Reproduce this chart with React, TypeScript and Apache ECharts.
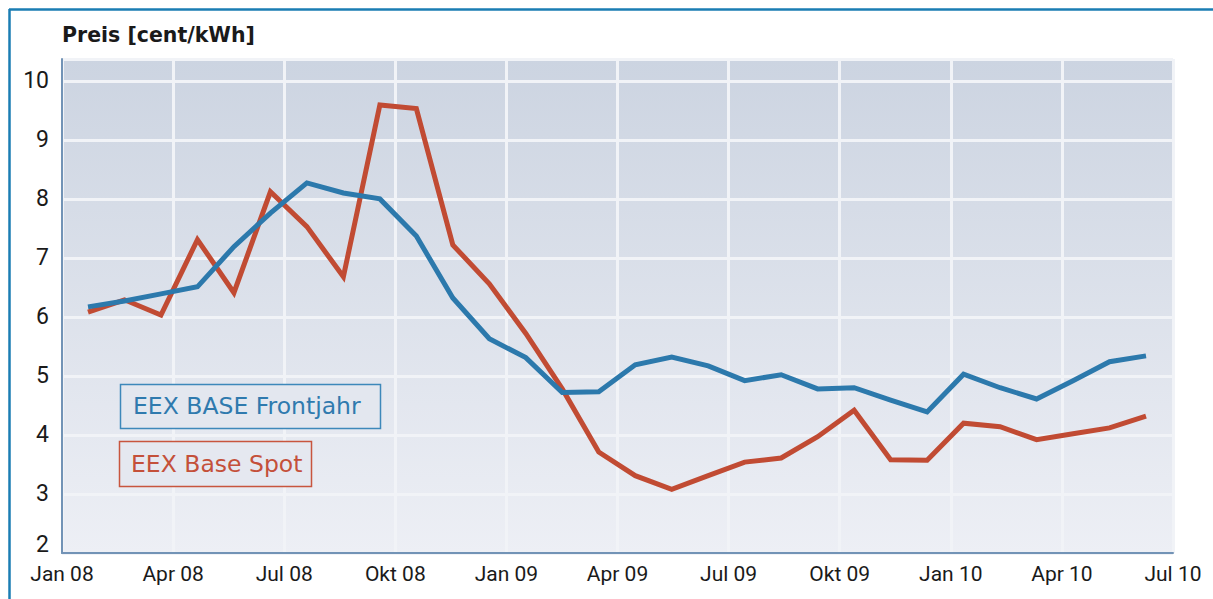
import React, { useEffect, useRef } from "react";
import * as echarts from "echarts";

// Monthly data points (Jan 08 .. Jun 10)
const months = [
  "Jan 08", "Feb 08", "Mrz 08", "Apr 08", "Mai 08", "Jun 08", "Jul 08", "Aug 08", "Sep 08", "Okt 08", "Nov 08", "Dez 08",
  "Jan 09", "Feb 09", "Mrz 09", "Apr 09", "Mai 09", "Jun 09", "Jul 09", "Aug 09", "Sep 09", "Okt 09", "Nov 09", "Dez 09",
  "Jan 10", "Feb 10", "Mrz 10", "Apr 10", "Mai 10", "Jun 10",
];

const frontjahr = [
  6.17, 6.27, 6.39, 6.51, 7.19, 7.76, 8.27, 8.1, 8.0, 7.37, 6.32, 5.63,
  5.31, 4.72, 4.73, 5.19, 5.32, 5.17, 4.92, 5.02, 4.78, 4.8, 4.59, 4.39,
  5.03, 4.8, 4.61, 4.92, 5.24, 5.34,
];

const spot = [
  6.08, 6.29, 6.03, 7.31, 6.41, 8.12, 7.53, 6.68, 9.59, 9.53, 7.22, 6.56,
  5.72, 4.78, 3.71, 3.31, 3.08, 3.31, 3.54, 3.61, 3.97, 4.42, 3.58, 3.57,
  4.2, 4.14, 3.92, 4.02, 4.12, 4.32,
];

const xTickLabels = [
  "Jan 08", "Apr 08", "Jul 08", "Okt 08", "Jan 09", "Apr 09",
  "Jul 09", "Okt 09", "Jan 10", "Apr 10", "Jul 10",
];

const seriesNames = ["EEX BASE Frontjahr", "EEX Base Spot"];
const yAxisTitle = "Preis [cent/kWh]";

const BLUE = "#2c79ac";
const RED = "#c14b33";

export default function App() {
  const ref = useRef<HTMLDivElement>(null);

  useEffect(() => {
    if (!ref.current) return;
    const chart = echarts.init(ref.current, undefined, { renderer: "svg" });
    const axisFont = "Roboto, 'DejaVu Sans', sans-serif";
    chart.setOption({
      animation: false,
      backgroundColor: "#ffffff",
      title: {
        text: yAxisTitle,
        left: 62,
        top: 24,
        padding: 0,
        textStyle: {
          fontFamily: "'DejaVu Sans', sans-serif",
          fontWeight: "bold",
          fontSize: 20.5,
          color: "#1a1a1a",
        },
      },
      grid: [
        {
          left: 62,
          right: 40,
          top: 59,
          bottom: 46,
          show: true,
          borderWidth: 0,
          backgroundColor: new echarts.graphic.LinearGradient(0, 0, 0, 1, [
            { offset: 0, color: "#ccd4e1" },
            { offset: 1, color: "#edeff5" },
          ]),
        },
        { left: 88, right: 67, top: 59, bottom: 46, show: false },
      ],
      xAxis: [
        {
          type: "value",
          gridIndex: 0,
          min: 0,
          max: 30,
          interval: 3,
          axisLine: { show: true, lineStyle: { color: "#7293b6", width: 2 } },
          axisTick: { show: false },
          splitLine: { show: true, lineStyle: { color: "#f1f3f7", width: 3 } },
          axisLabel: {
            margin: 10,
            fontFamily: axisFont,
            fontSize: 21,
            color: "#1a1a1a",
            formatter: (v: number) => xTickLabels[Math.round(v / 3)] ?? "",
          },
        },
        {
          type: "category",
          gridIndex: 1,
          data: months,
          boundaryGap: false,
          show: false,
        },
      ],
      yAxis: [
        {
          type: "value",
          gridIndex: 0,
          min: 2,
          max: 10.37,
          interval: 1,
          axisLine: { show: true, lineStyle: { color: "#7293b6", width: 2 } },
          axisTick: { show: false },
          splitLine: { show: true, lineStyle: { color: "#f1f3f7", width: 3 } },
          axisLabel: {
            margin: 13,
            fontFamily: axisFont,
            fontSize: 23,
            color: "#1a1a1a",
            showMaxLabel: false,
            formatter: (v: number) =>
              !Number.isInteger(v) ? "" : v === 2 ? "{low|2}" : String(v),
            rich: {
              low: {
                fontFamily: axisFont,
                fontSize: 23,
                color: "#1a1a1a",
                padding: [0, 0, 18, 0],
              },
            },
          },
        },
        {
          type: "value",
          gridIndex: 1,
          min: 2,
          max: 10.37,
          show: false,
          splitLine: { show: false },
        },
      ],
      series: [
        {
          name: seriesNames[1],
          type: "line",
          xAxisIndex: 1,
          yAxisIndex: 1,
          data: spot,
          symbol: "none",
          lineStyle: { color: RED, width: 5, join: "miter" },
          z: 3,
        },
        {
          name: seriesNames[0],
          type: "line",
          xAxisIndex: 1,
          yAxisIndex: 1,
          data: frontjahr,
          symbol: "none",
          lineStyle: { color: BLUE, width: 5, join: "miter" },
          z: 4,
        },
      ],
      graphic: [
        {
          type: "line",
          shape: { x1: 9, y1: 9.5, x2: 1213, y2: 9.5 },
          style: { stroke: "#1a7db3", lineWidth: 2.5 },
          z: 10,
        },
        {
          type: "line",
          shape: { x1: 9.5, y1: 9, x2: 9.5, y2: 599 },
          style: { stroke: "#1a7db3", lineWidth: 2.5 },
          z: 10,
        },
        {
          type: "rect",
          shape: { x: 120.5, y: 384.5, width: 260, height: 44 },
          style: { fill: "#e3e7ef", stroke: "#3d88ba", lineWidth: 1.5 },
          z: 10,
        },
        {
          type: "text",
          x: 133,
          y: 406,
          style: {
            text: seriesNames[0],
            fill: "#2f7aae",
            fontFamily: "'DejaVu Sans', sans-serif",
            fontSize: 23.5,
            verticalAlign: "middle",
          },
          z: 11,
        },
        {
          type: "rect",
          shape: { x: 119.5, y: 441.5, width: 192, height: 45 },
          style: { fill: "#e5e8f0", stroke: "#c8553e", lineWidth: 1.5 },
          z: 10,
        },
        {
          type: "text",
          x: 131,
          y: 464,
          style: {
            text: seriesNames[1],
            fill: "#c4503a",
            fontFamily: "'DejaVu Sans', sans-serif",
            fontSize: 23.5,
            verticalAlign: "middle",
          },
          z: 11,
        },
      ],
    });
    return () => chart.dispose();
  }, []);

  return (
    <div
      ref={ref}
      style={{ position: "fixed", left: 0, top: 0, width: 1213, height: 599 }}
    />
  );
}
